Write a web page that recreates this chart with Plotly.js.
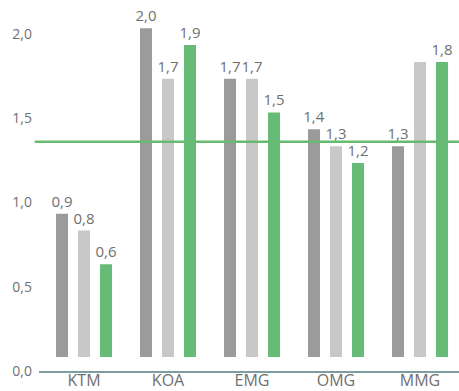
<!DOCTYPE html>
<html>
<head>
<meta charset="utf-8">
<script src="https://cdn.plot.ly/plotly-3.0.1.min.js"></script>
<style>html,body{margin:0;padding:0;background:#fff;}#chart{width:459px;height:391px;}</style>
</head>
<body>
<div id="chart"></div>
<script>
// Data
const categories = ["KTM", "KOA", "EMG", "OMG", "MMG"];
const seriesDark  = [0.85, 1.95, 1.65, 1.35, 1.25];
const seriesLight = [0.75, 1.65, 1.65, 1.25, 1.75];
const seriesGreen = [0.55, 1.85, 1.45, 1.15, 1.75];
const labelsDark  = ["0,9", "2,0", "1,7", "1,4", "1,3"];
const labelsLight = ["0,8", "1,7", "1,7", "1,3", ""];
const labelsGreen = ["0,6", "1,9", "1,5", "1,2", "1,8"];
const referenceLine = 1.36;
const yTicks = [0, 0.5, 1.0, 1.5, 2.0];

const barBase = 0.083;
const textColor = "#707070";
const font = "Open Sans, Segoe UI, sans-serif";

function barTrace(vals, labels, color) {
  return {
    type: "bar",
    x: categories,
    y: vals,
    base: barBase,
    text: labels,
    textposition: "outside",
    constraintext: "none",
    textfont: {family: font, size: 15, color: textColor},
    cliponaxis: false,
    marker: {color: color, line: {width: 0}},
    hoverinfo: "none"
  };
}

const data = [
  barTrace(seriesDark, labelsDark, "#9b9b9b"),
  barTrace(seriesLight, labelsLight, "#c8c8c8"),
  barTrace(seriesGreen, labelsGreen, "#66bb77")
];

const layout = {
  width: 459,
  height: 391,
  margin: {l: 39, r: 0, t: 0, b: 20, pad: 0},
  paper_bgcolor: "#ffffff",
  plot_bgcolor: "#ffffff",
  separators: ", ",
  showlegend: false,
  barmode: "group",
  bargap: 0.214,
  bargroupgap: 0.4545,
  font: {family: font, color: textColor},
  xaxis: {
    type: "category",
    range: [-0.536, 4.464],
    showline: true,
    linecolor: "#7d9ea0",
    linewidth: 1.5,
    showgrid: false,
    zeroline: false,
    ticks: "",
    tickfont: {family: font, size: 16, color: textColor},
    ticklabelstandoff: -6
  },
  yaxis: {
    range: [0, 2.2],
    tickvals: yTicks,
    tickformat: ".1f",
    showgrid: false,
    zeroline: false,
    showline: false,
    ticks: "",
    tickfont: {family: font, size: 14, color: textColor},
    ticklabelstandoff: 6
  },
  shapes: [{
    type: "line",
    xref: "paper", yref: "y",
    x0: -0.01, x1: 1,
    y0: referenceLine, y1: referenceLine,
    line: {color: "#66bb6e", width: 2.5}
  }]
};

Plotly.newPlot("chart", data, layout, {displayModeBar: false, staticPlot: true});
</script>
</body>
</html>
